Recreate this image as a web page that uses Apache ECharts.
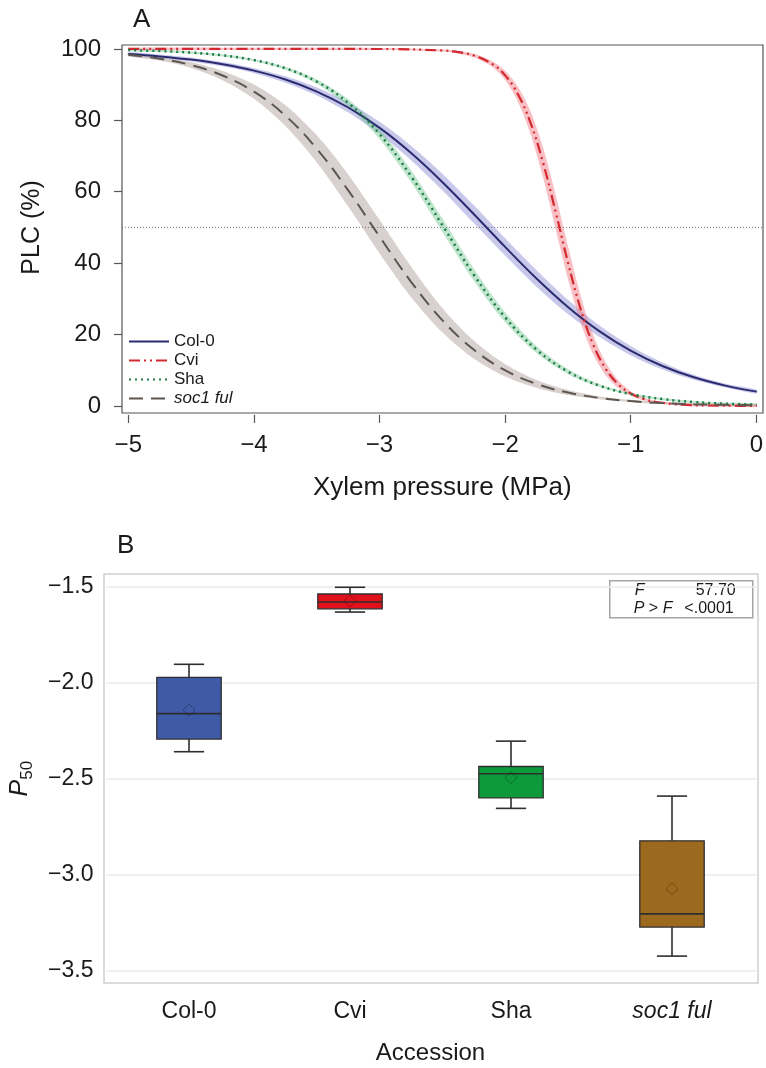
<!DOCTYPE html>
<html>
<head>
<meta charset="utf-8">
<script src="https://cdn.jsdelivr.net/npm/echarts@6.0.0/dist/echarts.min.js"></script>
<style>
html, body { margin: 0; padding: 0; background: #fff; }
#chart { width: 766px; height: 1068px; }
</style>
</head>
<body>
<div id="chart"></div>
<script>
// panel A: vulnerability curves (PLC vs xylem pressure)
var pressure = [-5, -4.75, -4.5, -4.25, -4, -3.75, -3.5, -3.25, -3, -2.75, -2.5, -2.25, -2, -1.75, -1.5, -1.25, -1, -0.75, -0.5, -0.25, 0];
var plcCol0 = [98.55, 97.91, 97.01, 95.72, 93.92, 91.43, 88.06, 83.59, 77.87, 70.84, 62.67, 53.69, 44.47, 35.62, 27.65, 20.88, 15.42, 11.18, 8.00, 5.67, 3.99];
var ciCol0 = [0.5, 0.5, 0.5, 0.6, 0.7, 0.9, 1.1, 1.4, 1.7, 2.0, 2.3, 2.5, 2.4, 2.3, 2.0, 1.6, 1.3, 1.0, 0.7, 0.5, 0.5];
var plcSha = [99.67, 99.41, 98.97, 98.19, 96.86, 94.58, 90.83, 84.87, 76.09, 64.34, 50.57, 36.70, 24.75, 15.71, 9.56, 5.65, 3.29, 1.89, 1.08, 0.62, 0.35];
var ciSha = [0.3, 0.3, 0.3, 0.3, 0.3, 0.4, 0.6, 1.0, 1.4, 1.7, 1.9, 1.7, 1.4, 1.0, 0.7, 0.4, 0.3, 0.3, 0.3, 0.3, 0.3];
var plcSoc = [98.36, 97.26, 95.46, 92.55, 88.03, 81.31, 72.01, 60.35, 47.38, 34.75, 23.96, 15.71, 9.93, 6.12, 3.72, 2.23, 1.33, 0.79, 0.47, 0.28, 0.17];
var ciSoc = [0.4, 0.5, 0.8, 1.3, 2.0, 2.9, 3.8, 4.5, 4.7, 4.3, 3.4, 2.5, 1.7, 1.1, 0.7, 0.4, 0.3, 0.3, 0.3, 0.3, 0.3];
var pressureCvi = [-5, -4, -3, -2.5, -2.4, -2.25, -2.1, -2, -1.9, -1.8, -1.7, -1.6, -1.5, -1.4, -1.3, -1.2, -1.1, -1, -0.9, -0.8, -0.6, -0.4, -0.2, 0];
var plcCvi = [100, 100, 99.98, 99.57, 99.23, 98.16, 95.69, 92.53, 87.33, 79.34, 68.15, 54.37, 39.90, 27.00, 17.08, 10.30, 6.01, 3.44, 1.95, 1.09, 0.34, 0.11, 0.03, 0.01];
var ciCvi = [0.3, 0.3, 0.3, 0.3, 0.35, 0.5, 0.8, 1.3, 2.1, 3.2, 4.2, 4.8, 4.6, 3.8, 2.7, 1.8, 1.1, 0.6, 0.4, 0.3, 0.3, 0.3, 0.3, 0.3];
var refX = [-5.05, 0.05];
var refY = [50, 50];

// panel B: P50 box plots
var accessions = ['Col-0', 'Cvi', 'Sha', 'soc1 ful'];
var whiskLo = [-2.360, -1.633, -2.655, -3.424];
var q1 = [-2.294, -1.616, -2.600, -3.273];
var median = [-2.162, -1.581, -2.475, -3.204];
var q3 = [-1.973, -1.539, -2.437, -2.824];
var whiskHi = [-1.905, -1.504, -2.305, -2.591];
var meanP50 = [-2.143, -1.575, -2.496, -3.074];
var boxColors = ['#3f5ba8', '#e0111b', '#0c9a3a', '#9c6a1f'];
var fValue = '57.70';
var pValue = '<.0001';

var FONT = '"Liberation Sans", Arial, Helvetica, sans-serif';
var TXT = '#1a1a1a';

function minus(v, d) {
    return (v < 0 ? '\u2212' : '') + Math.abs(v).toFixed(d);
}
function pairs(xs, ys) {
    return xs.map(function (x, i) { return [x, ys[i]]; });
}

function bandSeries(name, xs, ys, ci, fill) {
    return {
        name: name + ' band',
        type: 'custom',
        xAxisIndex: 0,
        yAxisIndex: 0,
        z: 1,
        silent: true,
        data: [[xs[0], ys[0]]],
        renderItem: function (params, api) {
            var pts = [];
            for (var i = 0; i < xs.length; i++) pts.push(api.coord([xs[i], ys[i] + ci[i]]));
            for (var j = xs.length - 1; j >= 0; j--) pts.push(api.coord([xs[j], ys[j] - ci[j]]));
            return { type: 'polygon', shape: { points: pts, smooth: 0.3 }, style: { fill: fill } };
        }
    };
}

function curveSeries(name, xs, ys, color, type, width) {
    return {
        name: name,
        type: 'line',
        xAxisIndex: 0,
        yAxisIndex: 0,
        z: 3,
        data: pairs(xs, ys),
        smooth: 0.4,
        symbol: 'none',
        silent: true,
        lineStyle: { color: color, type: type, width: width },
        itemStyle: { color: color }
    };
}

function renderBox(params, api) {
    var i = api.value(0);
    var band = api.size([1, 0])[0];
    var hb = band * 0.2, hc = band * 0.094;
    var cx = api.coord([i, api.value(1)])[0];
    var yLo = api.coord([i, api.value(1)])[1];
    var yQ1 = api.coord([i, api.value(2)])[1];
    var yMed = api.coord([i, api.value(3)])[1];
    var yQ3 = api.coord([i, api.value(4)])[1];
    var yHi = api.coord([i, api.value(5)])[1];
    var yMean = api.coord([i, api.value(6)])[1];
    var ln = { stroke: '#2e2e2e', lineWidth: 1.6 };
    var d = 6;
    return {
        type: 'group',
        children: [
            { type: 'line', shape: { x1: cx, y1: yHi, x2: cx, y2: yQ3 }, style: ln },
            { type: 'line', shape: { x1: cx, y1: yQ1, x2: cx, y2: yLo }, style: ln },
            { type: 'line', shape: { x1: cx - hc, y1: yHi, x2: cx + hc, y2: yHi }, style: ln },
            { type: 'line', shape: { x1: cx - hc, y1: yLo, x2: cx + hc, y2: yLo }, style: ln },
            { type: 'rect', shape: { x: cx - hb, y: yQ3, width: 2 * hb, height: yQ1 - yQ3 },
              style: { fill: boxColors[params.dataIndex], stroke: '#2e2e2e', lineWidth: 1.3 } },
            { type: 'line', shape: { x1: cx - hb, y1: yMed, x2: cx + hb, y2: yMed }, style: ln },
            { type: 'polygon', shape: { points: [[cx, yMean - d], [cx + d, yMean], [cx, yMean + d], [cx - d, yMean]] },
              style: { fill: 'none', stroke: 'rgba(0,0,0,0.28)', lineWidth: 1 } }
        ]
    };
}

var chart = echarts.init(document.getElementById('chart'), null, { renderer: 'canvas' });

var option = {
    animation: false,
    backgroundColor: '#fff',
    textStyle: { fontFamily: FONT, color: TXT },
    title: [
        { text: 'A', left: 128, top: 2, textStyle: { fontSize: 26, fontWeight: 'normal', color: TXT, fontFamily: FONT } },
        { text: 'B', left: 112, top: 528, textStyle: { fontSize: 26, fontWeight: 'normal', color: TXT, fontFamily: FONT } }
    ],
    legend: {
        data: ['Col-0', 'Cvi', 'Sha', 'soc1 ful'],
        orient: 'vertical',
        left: 128,
        top: 332,
        padding: 0,
        itemWidth: 40,
        itemHeight: 10,
        itemGap: 0,
        selectedMode: false,
        itemStyle: { opacity: 0 },
        textStyle: {
            fontSize: 17, color: TXT, fontFamily: FONT, lineHeight: 19,
            rich: { i: { fontStyle: 'italic', fontSize: 17, fontFamily: FONT, color: TXT } }
        },
        formatter: function (name) { return name === 'soc1 ful' ? '{i|soc1 ful}' : name; }
    },
    grid: [
        { left: 122, top: 45, width: 641, height: 368, show: true, borderColor: '#555', borderWidth: 1.2, backgroundColor: 'transparent' },
        { left: 128.3, top: 48.9, width: 628.6, height: 357 },
        { left: 104, top: 574, width: 654, height: 409, show: true, borderColor: '#cfcfcf', borderWidth: 1.5, backgroundColor: 'transparent' },
        { left: 104, top: 586.5, width: 654, height: 384.2 },
        { left: 108.5, top: 586.5, width: 644, height: 384.2 }
    ],
    xAxis: [
        { gridIndex: 0, type: 'value', min: -5.05, max: 0.05, show: false },
        {
            gridIndex: 1, type: 'value', position: 'bottom', min: -5, max: 0, interval: 1, offset: 9,
            axisLine: { show: false, onZero: false },
            axisTick: { show: true, length: 8, lineStyle: { color: '#555', width: 1.2 } },
            axisLabel: { fontSize: 24, color: TXT, margin: 18, formatter: function (v) { return minus(v, 0); } },
            splitLine: { show: false },
            name: 'Xylem pressure (MPa)', nameLocation: 'middle', nameGap: 60,
            nameTextStyle: { fontSize: 26, color: TXT }
        },
        { gridIndex: 2, type: 'value', min: 0, max: 1, show: false },
        { gridIndex: 3, type: 'value', min: 0, max: 1, show: false },
        {
            gridIndex: 4, type: 'category', position: 'bottom', data: accessions,
            axisLine: { show: false, onZero: false }, axisTick: { show: false },
            axisLabel: {
                fontSize: 23, color: TXT, margin: 29,
                formatter: function (v) { return v === 'soc1 ful' ? '{i|soc1 ful}' : v; },
                rich: { i: { fontStyle: 'italic', fontSize: 23, color: TXT, fontFamily: FONT } }
            },
            name: 'Accession', nameLocation: 'middle', nameGap: 71,
            nameTextStyle: { fontSize: 24, color: TXT }
        }
    ],
    yAxis: [
        { gridIndex: 0, type: 'value', min: -2, max: 101.1, show: false },
        {
            gridIndex: 1, type: 'value', position: 'left', min: 0, max: 100, interval: 20, offset: 6.3,
            axisLine: { show: false, onZero: false },
            axisTick: { show: true, inside: false, length: 8, lineStyle: { color: '#555', width: 1.2 } },
            axisLabel: { fontSize: 24, color: TXT, margin: 21 },
            splitLine: { show: false },
            name: 'PLC (%)', nameLocation: 'middle', nameGap: 77, nameRotate: 90,
            nameTextStyle: { fontSize: 25, color: TXT }
        },
        { gridIndex: 2, type: 'value', min: 0, max: 1, show: false },
        {
            gridIndex: 3, type: 'value', position: 'left', min: -3.5, max: -1.5, interval: 0.5,
            axisLine: { show: false, onZero: false }, axisTick: { show: false },
            axisLabel: { fontSize: 23, color: TXT, margin: 13, formatter: function (v) { return minus(v, 1); } },
            splitLine: { show: true, lineStyle: { color: '#ebebeb', width: 1.5 } },
            name: '{i|P}{s|50}', nameLocation: 'middle', nameGap: 71, nameRotate: 90,
            nameTextStyle: {
                rich: {
                    i: { fontStyle: 'italic', fontSize: 25, lineHeight: 30, color: TXT, fontFamily: FONT },
                    s: { fontSize: 17, lineHeight: 17, verticalAlign: 'bottom', color: TXT, fontFamily: FONT }
                }
            }
        },
        { gridIndex: 4, type: 'value', min: -3.5, max: -1.5, show: false }
    ],
    graphic: [{
        type: 'group', left: 609, top: 580,
        children: [
            { type: 'rect', shape: { x: 0, y: 0, width: 143, height: 37 }, style: { fill: '#fff', stroke: '#a5a5a5', lineWidth: 1.5 } },
            { type: 'text', x: 25, y: 10, style: { text: 'F', fontSize: 16, fontStyle: 'italic', fontFamily: FONT, fill: TXT, verticalAlign: 'middle' } },
            { type: 'text', x: 126, y: 10, style: { text: fValue, fontSize: 16, fontFamily: FONT, fill: TXT, align: 'right', verticalAlign: 'middle' } },
            { type: 'text', x: 24, y: 28, style: {
                text: '{i|P} > {i|F}', fontSize: 16, fontFamily: FONT, fill: TXT, verticalAlign: 'middle',
                rich: { i: { fontStyle: 'italic', fontSize: 16, fontFamily: FONT, fill: TXT } } } },
            { type: 'text', x: 124, y: 28, style: { text: pValue, fontSize: 16, fontFamily: FONT, fill: TXT, align: 'right', verticalAlign: 'middle' } }
        ]
    }],
    series: [
        bandSeries('Col-0', pressure, plcCol0, ciCol0, 'rgba(125,125,205,0.42)'),
        bandSeries('Sha', pressure, plcSha, ciSha, 'rgba(105,195,135,0.42)'),
        bandSeries('soc1 ful', pressure, plcSoc, ciSoc, 'rgba(185,172,168,0.55)'),
        bandSeries('Cvi', pressureCvi, plcCvi, ciCvi, 'rgba(240,115,125,0.45)'),
        {
            name: 'P50 line', type: 'line', xAxisIndex: 0, yAxisIndex: 0, z: 2,
            data: pairs(refX, refY), symbol: 'none', silent: true,
            lineStyle: { color: '#777', width: 1, type: [1, 2] }
        },
        curveSeries('Col-0', pressure, plcCol0, '#2b2b70', 'solid', 2),
        curveSeries('Cvi', pressureCvi, plcCvi, '#d22a30', [11, 4, 2, 4, 2, 4], 2.2),
        curveSeries('Sha', pressure, plcSha, '#1f7a48', [2, 4], 2.5),
        curveSeries('soc1 ful', pressure, plcSoc, '#5d554f', [14, 8], 2),
        {
            name: 'P50', type: 'custom', xAxisIndex: 4, yAxisIndex: 4, z: 3, silent: true,
            data: accessions.map(function (c, i) {
                return [i, whiskLo[i], q1[i], median[i], q3[i], whiskHi[i], meanP50[i]];
            }),
            encode: { x: 0, y: [1, 2, 3, 4, 5, 6] },
            renderItem: renderBox
        }
    ]
};
chart.setOption(option);
</script>
</body>
</html>
